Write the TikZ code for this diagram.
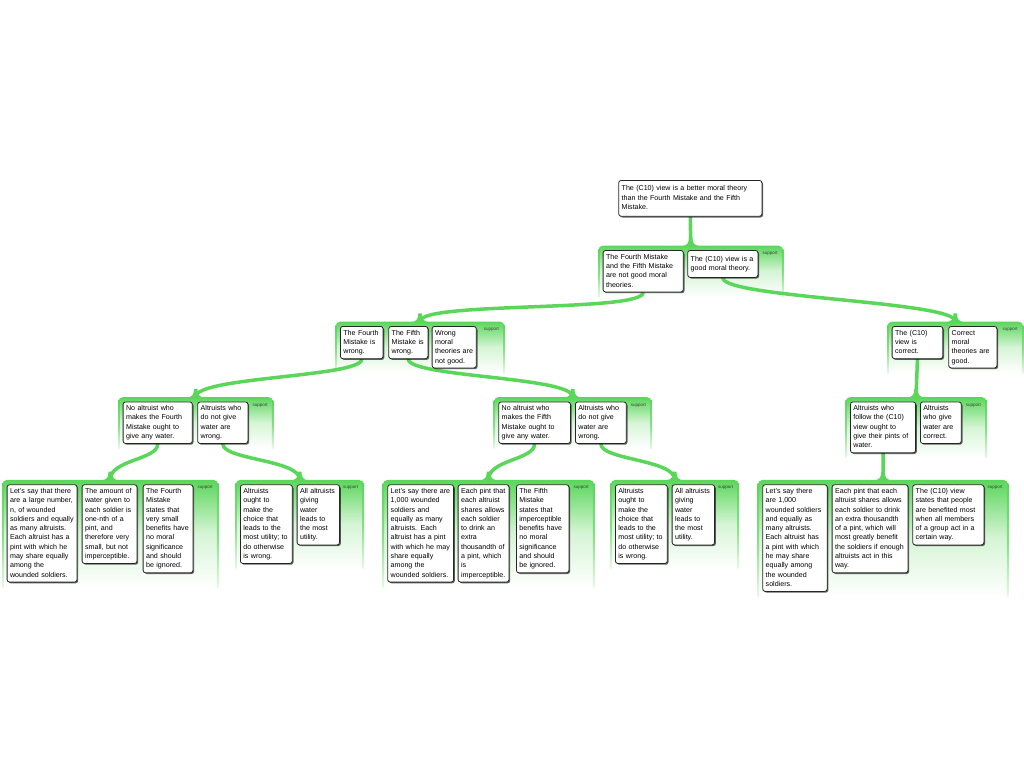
\documentclass[tikz,border=0pt]{standalone}
\usepackage{fontspec}
\setmainfont{Liberation Sans}
\usetikzlibrary{positioning, fit, backgrounds, shadows, calc}
\definecolor{grn}{RGB}{90,214,90}
\newcommand{\boxtext}[1]{\begin{tabular}{@{}l@{}}#1\end{tabular}}

\begin{document}
\begin{tikzpicture}[x=1pt, y=-1pt,
    box/.style={draw=black!85, line width=0.8pt, fill=white, rounded corners=2.5pt,
      anchor=north west, align=left, inner xsep=3pt, inner ysep=2.2pt, minimum height=27pt,
      font=\fontsize{7.1}{9.3}\selectfont,
      drop shadow={shadow xshift=1.2pt, shadow yshift=-1.2pt, fill=black, opacity=0.6}},
    topbox/.style={box, inner ysep=4pt},
    sup/.style={anchor=north west, inner sep=1pt, text=black!75, font=\fontsize{4.5}{5}\selectfont},
    grp/.style={rounded corners=5pt, inner sep=4.5pt, top color=grn, bottom color=white, middle color=grn!25},
    grpside/.style={top color=grn, bottom color=grn!15, middle color=grn!75},
    link/.style={draw=grn, line width=3.5pt},
    flare/.pic={\fill[grn] (-9,1) .. controls (-3.5,0) and (-1.75,-2) .. (-1.75,-8) -- (1.75,-8) .. controls (1.75,-2) and (3.5,0) .. (9,1) -- cycle;}]

  \useasboundingbox (0,0) rectangle (1024,768);

  % claim
  \node[topbox, text width=137.2pt] (T) at (618.3,180) {\boxtext{The (C10) view is a better moral theory\\than the Fourth Mistake and the Fifth\\Mistake.}};

  % first support
  \node[box, text width=74.2pt] (A1) at (602.7,250) {\boxtext{The Fourth Mistake\\and the Fifth Mistake\\are not good moral\\theories.}};
  \node[box, text width=64.2pt] (A2) at (687.3,250) {\boxtext{The (C10) view is a\\good moral theory.}};
  \node[sup] (As) at ([xshift=3pt, yshift=-0.5pt]A2.north east) {support};

  % second level
  \node[box, text width=36.7pt] (B1) at (340,326) {\boxtext{The Fourth\\Mistake is\\wrong.}};
  \node[box, text width=33.2pt] (B2) at (388.3,326) {\boxtext{The Fifth\\Mistake is\\wrong.}};
  \node[box, text width=38.2pt] (B3) at (431.7,326) {\boxtext{Wrong\\moral\\theories are\\not good.}};
  \node[sup] (Bs) at ([xshift=6pt, yshift=-0.5pt]B3.north east) {support};

  \node[box, text width=44.7pt] (C1) at (891.7,326) {\boxtext{The (C10)\\view is\\correct.}};
  \node[box, text width=42.2pt] (C2) at (948.3,326) {\boxtext{Correct\\moral\\theories are\\good.}};
  \node[sup] (Cs) at ([xshift=4pt, yshift=-0.5pt]C2.north east) {support};

  % third level
  \node[box, text width=63.2pt] (D1) at (122.7,401.5) {\boxtext{No altruist who\\makes the Fourth\\Mistake ought to\\give any water.}};
  \node[box, text width=44.2pt] (D2) at (197.3,401.5) {\boxtext{Altruists who\\do not give\\water are\\wrong.}};
  \node[sup] (Ds) at ([xshift=3pt, yshift=-0.5pt]D2.north east) {support};

  \node[box, text width=65.7pt] (E1) at (498.3,401.5) {\boxtext{No altruist who\\makes the Fifth\\Mistake ought to\\give any water.}};
  \node[box, text width=44.9pt] (E2) at (575,401.5) {\boxtext{Altruists who\\do not give\\water are\\wrong.}};
  \node[sup] (Es) at ([xshift=3pt, yshift=-0.5pt]E2.north east) {support};

  \node[box, text width=59.2pt] (F1) at (850,401.5) {\boxtext{Altruists who\\follow the (C10)\\view ought to\\give their pints of\\water.}};
  \node[box, text width=34.9pt] (F2) at (920,401.5) {\boxtext{Altruists\\who give\\water are\\correct.}};
  \node[sup] (Fs) at ([xshift=3pt, yshift=-0.5pt]F2.north east) {support};

  % fourth level
  \node[box, text width=63.9pt] (G1) at (6.7,484.3) {\boxtext{Let's say that there\\are a large number,\\n, of wounded\\soldiers and equally\\as many altruists.\\Each altruist has a\\pint with which he\\may share equally\\among the\\wounded soldiers.}};
  \node[box, text width=48.9pt] (G2) at (81.7,484.3) {\boxtext{The amount of\\water given to\\each soldier is\\one-nth of a\\pint, and\\therefore very\\small, but not\\imperceptible.}};
  \node[box, text width=43.9pt] (G3) at (142.7,484.3) {\boxtext{The Fourth\\Mistake\\states that\\very small\\benefits have\\no moral\\significance\\and should\\be ignored.}};
  \node[sup] (Gs) at ([xshift=3pt, yshift=-0.5pt]G3.north east) {support};

  \node[box, text width=45.9pt] (H1) at (240,484.3) {\boxtext{Altruists\\ought to\\make the\\choice that\\leads to the\\most utility; to\\do otherwise\\is wrong.}};
  \node[box, text width=36.5pt] (H2) at (296.7,484.3) {\boxtext{All altruists\\giving\\water\\leads to\\the most\\utility.}};
  \node[sup] (Hs) at ([xshift=2pt, yshift=-0.5pt]H2.north east) {support};

  \node[box, text width=59.9pt] (I1) at (387.3,484.3) {\boxtext{Let's say there are\\1,000 wounded\\soldiers and\\equally as many\\altruists. Each\\altruist has a pint\\with which he may\\share equally\\among the\\wounded soldiers.}};
  \node[box, text width=44.9pt] (I2) at (457.7,484.3) {\boxtext{Each pint that\\each altruist\\shares allows\\each soldier\\to drink an\\extra\\thousandth of\\a pint, which\\is\\imperceptible.}};
  \node[box, text width=46.5pt] (I3) at (516,484.3) {\boxtext{The Fifth\\Mistake\\states that\\imperceptible\\benefits have\\no moral\\significance\\and should\\be ignored.}};
  \node[sup] (Is) at ([xshift=3pt, yshift=-0.5pt]I3.north east) {support};

  \node[box, text width=45.9pt] (J1) at (615,484.3) {\boxtext{Altruists\\ought to\\make the\\choice that\\leads to the\\most utility; to\\do otherwise\\is wrong.}};
  \node[box, text width=36.5pt] (J2) at (671.7,484.3) {\boxtext{All altruists\\giving\\water\\leads to\\the most\\utility.}};
  \node[sup] (Js) at ([xshift=2pt, yshift=-0.5pt]J2.north east) {support};

  \node[box, text width=58.5pt] (K1) at (762.3,484.3) {\boxtext{Let's say there\\are 1,000\\wounded soldiers\\and equally as\\many altruists.\\Each altruist has\\a pint with which\\he may share\\equally among\\the wounded\\soldiers.}};
  \node[box, text width=69.9pt] (K2) at (831.7,484.3) {\boxtext{Each pint that each\\altruist shares allows\\each soldier to drink\\an extra thousandth\\of a pint, which will\\most greatly benefit\\the soldiers if enough\\altruists act in this\\way.}};
  \node[box, text width=65.2pt] (K3) at (912.3,484.3) {\boxtext{The (C10) view\\states that people\\are benefited most\\when all members\\of a group act in a\\certain way.}};
  \node[sup] (Ks) at ([xshift=2pt, yshift=-0.5pt]K3.north east) {support};

  \begin{scope}[on background layer]
    % support groups
    \node[grp, fit=(A1)(A2)(As)] (A) {};
    \node[grp, fit=(B1)(B2)(B3)(Bs)] (B) {};
    \node[grp, fit=(C1)(C2)(Cs)] (C) {};
    \node[grp, fit=(D1)(D2)(Ds)] (D) {};
    \node[grp, fit=(E1)(E2)(Es)] (E) {};
    \node[grp, fit=(F1)(F2)(Fs)] (F) {};
    \node[grp, fit=(G1)(G2)(G3)(Gs)] (G) {};
    \node[grp, fit=(H1)(H2)(Hs)] (H) {};
    \node[grp, fit=(I1)(I2)(I3)(Is)] (I) {};
    \node[grp, fit=(J1)(J2)(Js)] (J) {};
    \node[grp, fit=(K1)(K2)(K3)(Ks)] (K) {};
    \foreach \g in {A,B,C,D,E,F,G,H,I,J,K} {
      \shade[grpside] ([yshift=-4pt]\g.north west) rectangle ([xshift=1.6pt]\g.south west);
      \shade[grpside] ([yshift=-4pt]\g.north east) rectangle ([xshift=-1.6pt]\g.south east);
    }

    % links
    \draw[link] (T.south) -- (A.north);
    \draw[link] (A1.south) .. controls +(0,20) and +(0,-20) .. (B.north);
    \draw[link] (A2.south) .. controls +(0,20) and +(0,-20) .. (C.north);
    \draw[link] (B1.south) .. controls +(0,18) and +(0,-20) .. (D.north);
    \draw[link] (B2.south) .. controls +(0,18) and +(0,-20) .. (E.north);
    \draw[link] (C1.south) -- (F.north);
    \draw[link] (D1.south) .. controls +(0,16) and +(0,-20) .. (G.north);
    \draw[link] (D2.south) .. controls +(0,16) and +(0,-20) .. (H.north);
    \draw[link] (E1.south) .. controls +(0,16) and +(0,-20) .. (I.north);
    \draw[link] (E2.south) .. controls +(0,16) and +(0,-20) .. (J.north);
    \draw[link] (F1.south) -- (K.north);
    \foreach \g in {A,B,C,D,E,F,G,H,I,J,K}
      \pic at (\g.north) {flare};
  \end{scope}
\end{tikzpicture}
\end{document}
